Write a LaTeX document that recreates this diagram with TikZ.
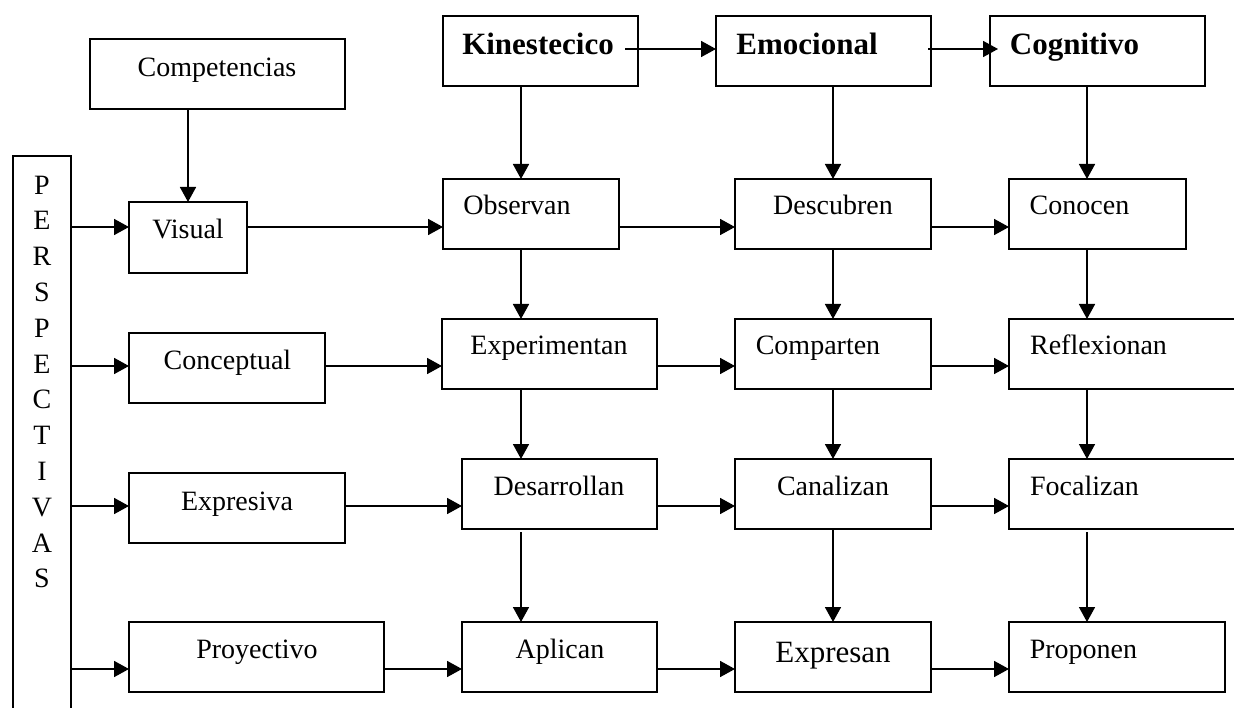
\documentclass[tikz,border=0pt]{standalone}
\usepackage{fontspec}
\setmainfont{Liberation Serif}
\usetikzlibrary{arrows.meta,calc}
\tikzset{
  box/.style={draw, line width=1.8pt, inner sep=0pt, outer sep=0pt},
  txt/.style={inner sep=0pt, anchor=base, font=\fontsize{28}{34}\selectfont},
  btxt/.style={inner sep=0pt, anchor=base, font=\fontsize{31}{36}\selectfont\bfseries},
  arr/.style={line width=1.7pt, -{Triangle[length=15pt,width=16pt]}},
  ln/.style={line width=1.7pt}
}
\newcommand\mybox[5]{\node[box, minimum width={(#4-#2)*1pt}, minimum height={(#5-#3)*1pt}] (#1) at ({(#2+#4)/2},{(#3+#5)/2}) {};}
\begin{document}
\begin{tikzpicture}[x=1pt,y=-1pt]
\clip (0,0) rectangle (1234,708);
\fill[white] (0,0) rectangle (1234,708);
% boxes
\mybox{comp}{90}{39}{345}{109}
\mybox{vis}{129}{202}{247}{273}
\mybox{kin}{443}{16}{638}{86}
\mybox{emo}{716}{16}{931}{86}
\mybox{cog}{990}{16}{1205}{86}
\mybox{obs}{443}{179}{619}{249}
\mybox{desc}{735}{179}{931}{249}
\mybox{con}{1009}{179}{1186}{249}
\mybox{conc}{129}{333}{325}{403}
\mybox{exper}{442}{319}{657}{389}
\mybox{compa}{735}{319}{931}{389}
\mybox{refl}{1009}{319}{1250}{389}
\mybox{expv}{129}{473}{345}{543}
\mybox{desa}{462}{459}{657}{529}
\mybox{cana}{735}{459}{931}{529}
\mybox{foca}{1009}{459}{1250}{529}
\mybox{proy}{129}{622}{384}{692}
\mybox{apli}{462}{622}{657}{692}
\mybox{expr}{735}{622}{931}{692}
\mybox{prop}{1009}{622}{1225}{692}
\mybox{persp}{13}{156}{71}{760}
% texts
\node[txt] (t-comp) at (217,77) {Competencias};
\node[txt] (t-vis) at (188,239) {Visual};
\node[btxt] (t-kin) at (538,55) {Kinestecico};
\node[btxt] (t-emo) at (807,55) {Emocional};
\node[btxt] (t-cog) at (1074.5,55) {Cognitivo};
\node[txt] (t-obs) at (517,215) {Observan};
\node[txt] (t-desc) at (833,215) {Descubren};
\node[txt] (t-con) at (1079.5,215) {Conocen};
\node[txt] (t-conc) at (227.5,370) {Conceptual};
\node[txt] (t-exper) at (549,355) {Experimentan};
\node[txt] (t-compa) at (818,355) {Comparten};
\node[txt] (t-refl) at (1098.5,355) {Reflexionan};
\node[txt] (t-expv) at (237,510) {Expresiva};
\node[txt] (t-desa) at (559,495) {Desarrollan};
\node[txt] (t-cana) at (833,495) {Canalizan};
\node[txt] (t-foca) at (1084.5,495) {Focalizan};
\node[txt] (t-proy) at (257,658) {Proyectivo};
\node[txt] (t-apli) at (560,658) {Aplican};
\node[txt, font=\fontsize{31}{36}\selectfont] (t-expr) at (833,662) {Expresan};
\node[txt] (t-prop) at (1083.5,658) {Proponen};
\node[inner sep=0pt, align=center, font=\fontsize{28}{35.8}\selectfont] (t-persp) at (42,382) {P\\E\\R\\S\\P\\E\\C\\T\\I\\V\\A\\S};
% column / row coordinates
\coordinate (c1) at (521,0);
\coordinate (c2) at (833,0);
\coordinate (c3) at (1087,0);
\coordinate (r0) at (0,49);
\coordinate (r1) at (0,227);
\coordinate (r2) at (0,366);
\coordinate (r3) at (0,506);
\coordinate (r4) at (0,669);
% top row arrows
\draw[arr] ([xshift=-13pt]kin.east |- r0) -- (emo.west |- r0);
\draw[arr] ([xshift=-3pt]emo.east |- r0) -- ([xshift=8pt]cog.west |- r0);
% competencias
\draw[arr] (comp.south -| vis.north) -- (vis.north);
% vertical arrows
\draw[arr] (kin.south -| c1) -- (obs.north -| c1);
\draw[arr] (obs.south -| c1) -- (exper.north -| c1);
\draw[arr] (exper.south -| c1) -- (desa.north -| c1);
\draw[arr] ([yshift=-3pt]desa.south -| c1) -- (apli.north -| c1);
\draw[arr] (emo.south -| c2) -- (desc.north -| c2);
\draw[arr] (desc.south -| c2) -- (compa.north -| c2);
\draw[arr] (compa.south -| c2) -- (cana.north -| c2);
\draw[arr] (cana.south -| c2) -- (expr.north -| c2);
\draw[arr] (cog.south -| c3) -- (con.north -| c3);
\draw[arr] (con.south -| c3) -- (refl.north -| c3);
\draw[arr] (refl.south -| c3) -- (foca.north -| c3);
\draw[arr] ([yshift=-3pt]foca.south -| c3) -- (prop.north -| c3);
% horizontal arrows
\draw[arr] (persp.east |- r1) -- (vis.west |- r1);
\draw[arr] (vis.east |- r1) -- (obs.west |- r1);
\draw[arr] (obs.east |- r1) -- (desc.west |- r1);
\draw[arr] (desc.east |- r1) -- (con.west |- r1);
\draw[arr] (persp.east |- r2) -- (conc.west |- r2);
\draw[arr] (conc.east |- r2) -- (exper.west |- r2);
\draw[arr] (exper.east |- r2) -- (compa.west |- r2);
\draw[arr] (compa.east |- r2) -- (refl.west |- r2);
\draw[arr] (persp.east |- r3) -- (expv.west |- r3);
\draw[arr] (expv.east |- r3) -- (desa.west |- r3);
\draw[arr] (desa.east |- r3) -- (cana.west |- r3);
\draw[arr] (cana.east |- r3) -- (foca.west |- r3);
\draw[arr] (persp.east |- r4) -- (proy.west |- r4);
\draw[arr] (proy.east |- r4) -- (apli.west |- r4);
\draw[arr] (apli.east |- r4) -- (expr.west |- r4);
\draw[arr] (expr.east |- r4) -- (prop.west |- r4);
\end{tikzpicture}
\end{document}
